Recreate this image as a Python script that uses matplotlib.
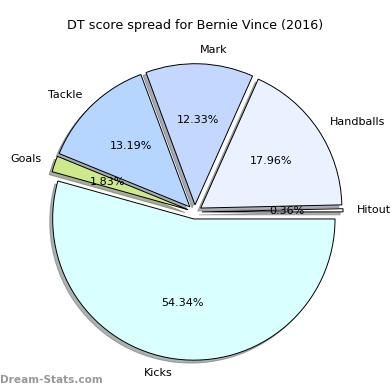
import matplotlib
matplotlib.use('Agg')
import matplotlib.pyplot as plt

# DT score breakdown, Bernie Vince 2016
labels = ['Kicks', 'Goals', 'Tackle', 'Mark', 'Handballs', 'Hitout']
values = [54.34, 1.83, 13.19, 12.33, 17.96, 0.36]
colors = ['#d9ffff', '#cde98c', '#b6d6ff', '#c4d8ff', '#eaf1ff', '#ffffff']
explode = [0.05] * len(values)

total = sum(values)

fig = plt.figure(figsize=(3.9, 3.9), dpi=100)
ax = fig.add_axes([0.047, 0.004, 0.905, 0.905])

# printed percentages are the rounded source values (they sum to 100.01)
ax.pie(values, labels=labels, colors=colors, explode=explode,
       autopct=lambda p: '%.2f%%' % (p * total / 100),
       startangle=0, counterclock=False,
       shadow={'ox': -0.015, 'oy': -0.015, 'shade': 0.6},
       wedgeprops={'edgecolor': 'black', 'linewidth': 0.7},
       textprops={'fontsize': 8})
ax.set_aspect('equal')

fig.text(0.5, 0.935, 'DT score spread for Bernie Vince (2016)',
         ha='center', va='center', fontsize=9.2)
fig.text(0.0, 0.025, 'Dream-Stats.com', ha='left', va='center',
         fontsize=7.6, color='#999999', fontweight='bold')

plt.savefig('out.png', dpi=100)
